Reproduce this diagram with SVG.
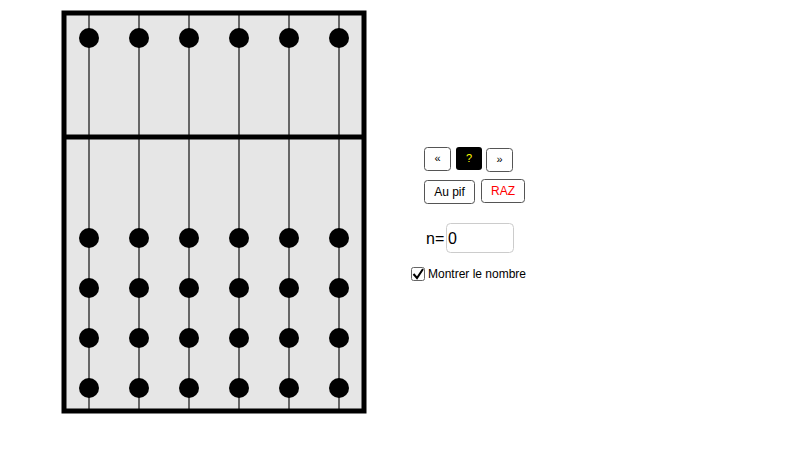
<svg xmlns="http://www.w3.org/2000/svg" width="800" height="468" viewBox="0 0 800 468">
<style>
.rod{stroke:#666;stroke-width:2}
.bead{fill:#000}
.btn{fill:#fff;stroke:#555;stroke-width:1}
text{font-family:"Liberation Sans",Arial,sans-serif}
</style>
<rect width="800" height="468" fill="#fff"/>
<g id="frame">
<rect x="64" y="13" width="300" height="398" fill="#e6e6e6"/>
<g id="rods">
<line class="rod" x1="89" y1="13" x2="89" y2="411"/>
<line class="rod" x1="139" y1="13" x2="139" y2="411"/>
<line class="rod" x1="189" y1="13" x2="189" y2="411"/>
<line class="rod" x1="239" y1="13" x2="239" y2="411"/>
<line class="rod" x1="289" y1="13" x2="289" y2="411"/>
<line class="rod" x1="339" y1="13" x2="339" y2="411"/>
</g>
<rect x="64" y="13" width="300" height="398" fill="none" stroke="#000" stroke-width="5"/>
<line x1="64" y1="137" x2="364" y2="137" stroke="#000" stroke-width="5"/>
</g>
<g id="beads">
<g id="top">
<circle class="bead" cx="89" cy="38" r="10"/><circle class="bead" cx="139" cy="38" r="10"/><circle class="bead" cx="189" cy="38" r="10"/><circle class="bead" cx="239" cy="38" r="10"/><circle class="bead" cx="289" cy="38" r="10"/><circle class="bead" cx="339" cy="38" r="10"/>
</g>
<g id="row1">
<circle class="bead" cx="89" cy="238" r="10"/><circle class="bead" cx="139" cy="238" r="10"/><circle class="bead" cx="189" cy="238" r="10"/><circle class="bead" cx="239" cy="238" r="10"/><circle class="bead" cx="289" cy="238" r="10"/><circle class="bead" cx="339" cy="238" r="10"/>
</g>
<g id="row2">
<circle class="bead" cx="89" cy="288" r="10"/><circle class="bead" cx="139" cy="288" r="10"/><circle class="bead" cx="189" cy="288" r="10"/><circle class="bead" cx="239" cy="288" r="10"/><circle class="bead" cx="289" cy="288" r="10"/><circle class="bead" cx="339" cy="288" r="10"/>
</g>
<g id="row3">
<circle class="bead" cx="89" cy="338" r="10"/><circle class="bead" cx="139" cy="338" r="10"/><circle class="bead" cx="189" cy="338" r="10"/><circle class="bead" cx="239" cy="338" r="10"/><circle class="bead" cx="289" cy="338" r="10"/><circle class="bead" cx="339" cy="338" r="10"/>
</g>
<g id="row4">
<circle class="bead" cx="89" cy="388" r="10"/><circle class="bead" cx="139" cy="388" r="10"/><circle class="bead" cx="189" cy="388" r="10"/><circle class="bead" cx="239" cy="388" r="10"/><circle class="bead" cx="289" cy="388" r="10"/><circle class="bead" cx="339" cy="388" r="10"/>
</g>
</g>
<g id="btn-prev"><rect class="btn" x="424.5" y="147.5" width="26" height="23" rx="3"/><text x="437.5" y="162" font-size="11" text-anchor="middle">«</text></g>
<g id="btn-q"><rect x="456" y="147" width="26" height="23" rx="3" fill="#000"/><text x="469" y="162" font-size="11" text-anchor="middle" fill="#ffff00">?</text></g>
<g id="btn-next"><rect class="btn" x="486.5" y="148.5" width="26" height="23" rx="3"/><text x="499.5" y="163" font-size="11" text-anchor="middle">»</text></g>
<g id="btn-pif"><rect class="btn" x="424.5" y="180.5" width="50" height="23" rx="3"/><text x="449.5" y="195.5" font-size="12" text-anchor="middle">Au pif</text></g>
<g id="btn-raz"><rect class="btn" x="481.5" y="179.5" width="43" height="23" rx="3"/><text x="503" y="194.5" font-size="12" text-anchor="middle" fill="#ff0000">RAZ</text></g>
<g id="input"><text x="426" y="244" font-size="16">n=</text><rect x="446.5" y="223.5" width="67" height="29" rx="4" fill="#fff" stroke="#ccc"/><text x="448" y="244" font-size="16">0</text></g>
<g id="check"><rect x="411.5" y="267.5" width="13" height="13" rx="2" fill="#fff" stroke="#666"/><path d="M413.5 274 L417 278 L423 269" fill="none" stroke="#000" stroke-width="2"/><text x="428" y="278" font-size="12">Montrer le nombre</text></g>
</svg>
